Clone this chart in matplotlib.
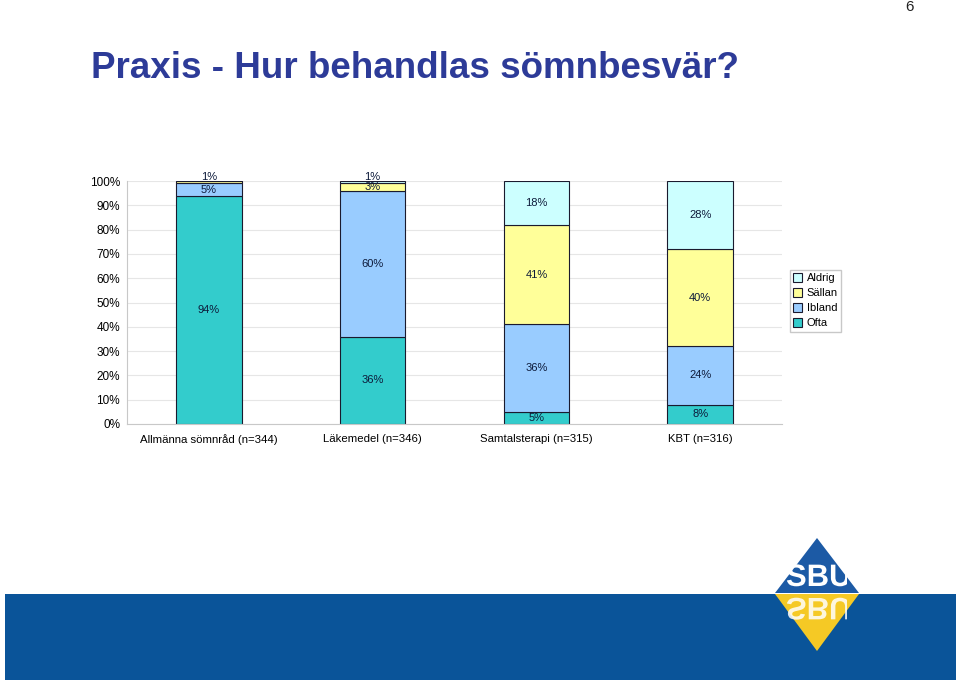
import numpy as np
import matplotlib.pyplot as plt
from matplotlib.patches import Rectangle, Polygon, PathPatch
from matplotlib.textpath import TextPath
from matplotlib.font_manager import FontProperties
from matplotlib.transforms import Affine2D

plt.rcParams['font.family'] = ['Liberation Sans', 'DejaVu Sans']

categories = ["Allmänna sömnråd (n=344)", "Läkemedel (n=346)",
              "Samtalsterapi (n=315)", "KBT (n=316)"]
ofta = [94, 36, 5, 8]
ibland = [5, 60, 36, 24]
sallan = [1, 3, 41, 40]
aldrig = [0, 1, 18, 28]
series_names = ["Ofta", "Ibland", "Sällan", "Aldrig"]
series_colors = ["#33CCCC", "#99CCFF", "#FFFF99", "#CCFFFF"]
yticks = [0, 10, 20, 30, 40, 50, 60, 70, 80, 90, 100]

W, H = 960, 683
fig = plt.figure(figsize=(9.6, 6.83), dpi=100)

# decorations in pixel coordinates
deco = fig.add_axes([0, 0, 1, 1], zorder=0)
deco.set_xlim(0, W)
deco.set_ylim(H, 0)
deco.axis("off")
deco.add_patch(Rectangle((5, 594), 951, 86, color="#0A5499", lw=0))
deco.add_patch(Polygon([(817, 538), (859, 593), (775, 593)], closed=True,
                       color="#1C5AA5", lw=0))
deco.add_patch(Polygon([(775, 594), (859, 594), (817, 651)], closed=True,
                       color="#F5C925", lw=0))
fp = FontProperties(family="Liberation Sans", weight="bold")
tp = TextPath((0, 0), "SBU", size=31, prop=fp)
clip = Rectangle((780, 540), 67, 100, transform=deco.transData)
up = Affine2D().scale(1.0, -1.0).translate(786, 586) + deco.transData
p1 = deco.add_patch(PathPatch(tp, color="white", lw=0, transform=up))
p1.set_clip_path(clip)
down = Affine2D().translate(786, 598) + deco.transData
p2 = deco.add_patch(PathPatch(tp, color="white", alpha=0.85, lw=0, transform=down))
p2.set_clip_path(clip)
deco.text(910, 7, "6", fontsize=11, ha="center", va="center", color="#222222")
deco.text(91, 68, "Praxis - Hur behandlas sömnbesvär?", fontsize=26.5,
          fontweight="bold", color="#2D3B98", ha="left", va="center")

# chart
ax = fig.add_axes([127 / W, 1 - 424 / H, 655 / W, 243 / H], zorder=1)
ax.set_facecolor("none")
x = np.arange(len(categories))
bottom = np.zeros(len(categories))
handles = []
for name, vals, col in zip(series_names, [ofta, ibland, sallan, aldrig], series_colors):
    vals = np.array(vals, dtype=float)
    b = ax.bar(x, vals, 0.4, bottom=bottom, color=col, edgecolor="#1a1a2e",
               linewidth=0.8, label=name, zorder=2)
    handles.append(b)
    for xi, v, b0 in zip(x, vals, bottom):
        if v > 0:
            dy = 4 if (v < 2 and b0 + v >= 99) else 0
            ax.annotate(f"{int(v)}%", (xi, b0 + v / 2), xytext=(0, dy),
                        textcoords="offset points", ha="center", va="center",
                        fontsize=8, color="#0D1A3A", zorder=3)
    bottom += vals

ax.set_xlim(-0.5, 3.5)
ax.set_ylim(0, 100)
ax.set_yticks(yticks)
ax.set_yticklabels([f"{t}%" for t in yticks], fontsize=8.5)
ax.set_xticks(x)
ax.set_xticklabels(categories, fontsize=8.2)
ax.tick_params(axis="y", length=0, pad=5)
ax.tick_params(axis="x", length=0, pad=7)
ax.grid(axis="y", color="#E6E6E6", lw=0.8, zorder=0)
for s in ["top", "right"]:
    ax.spines[s].set_visible(False)
for s in ["left", "bottom"]:
    ax.spines[s].set_color("#C8C8C8")

leg = ax.legend(handles[::-1], series_names[::-1], loc="upper left",
                bbox_to_anchor=(1.012, 0.635), fontsize=8, frameon=True,
                fancybox=False, edgecolor="#BBBBBB", handlelength=0.8,
                handleheight=0.8, handletextpad=0.4, labelspacing=0.45,
                borderpad=0.3, borderaxespad=0)

fig.savefig("out.png", dpi=100)
